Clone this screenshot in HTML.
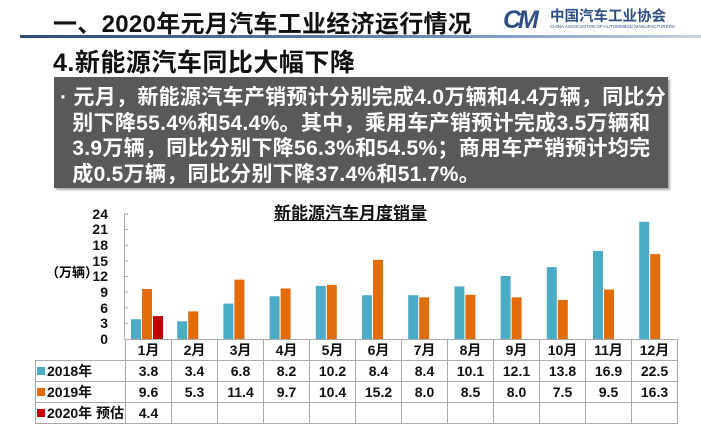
<!DOCTYPE html>
<html><head><meta charset="utf-8"><style>
body{margin:0;width:701px;height:433px;background:#fff;overflow:hidden;position:relative;font-family:"Liberation Sans","Noto Sans CJK SC",sans-serif}
.a{position:absolute;white-space:nowrap}
.t1{left:53px;top:4px;font-size:24px;font-weight:bold;color:#111;letter-spacing:0.3px}
.line{left:20px;top:35px;width:681px;height:3px;background:linear-gradient(90deg,#2b4a7a,#6a8ab8 60%,#c8d4e6)}
.t2{left:53px;top:43px;font-size:25px;font-weight:bold;color:#111;letter-spacing:0.5px}
.box{left:54px;top:77px;width:614px;height:111px;background:#595959;box-shadow:2px 2px 2px #aaa}
.bt{left:60px;top:85px;font-size:21px;font-weight:bold;color:#fff;line-height:25.5px;letter-spacing:0.3px}
.ct{left:0;width:701px;text-align:center;top:199px;font-size:17px;font-weight:bold;text-decoration:underline;color:#111}
.yl{width:30px;text-align:right;left:78px;font-size:14px;font-weight:bold;color:#111}
table{position:absolute;left:35px;top:339px;border-collapse:collapse;font-size:14px;font-weight:bold;color:#111}
td{border:1px solid #aaa;height:20px;padding:0;text-align:center;width:45px}
td.l{width:88px;text-align:left;padding-left:1px}
tr.h td.l{border:none;border-right:1px solid #aaa}
.sq{display:inline-block;width:8px;height:8px;margin-right:2px;vertical-align:1px}
</style></head><body>
<div class="a t1">一、2020年元月汽车工业经济运行情况</div>
<div class="a" style="left:503px;top:6px;font-size:25px;font-weight:bold;font-style:italic;color:#2d4f86;letter-spacing:-3px">CM</div>
<div class="a" style="left:550px;top:5px;font-size:14.5px;font-weight:bold;color:#2d4f86">中国汽车工业协会</div>
<div class="a" style="left:550px;top:24px;font-size:4.5px;color:#2d4f86">CHINA ASSOCIATION OF AUTOMOBILE MANUFACTURERS</div>
<div class="a line"></div>
<div class="a t2">4.新能源汽车同比大幅下降</div>
<div class="a box"></div>
<div class="a bt">· 元月，新能源汽车产销预计分别完成4.0万辆和4.4万辆，同比分<br>&nbsp;&nbsp;别下降55.4%和54.4%。其中，乘用车产销预计完成3.5万辆和<br>&nbsp;&nbsp;3.9万辆，同比分别下降56.3%和54.5%；商用车产销预计均完<br>&nbsp;&nbsp;成0.5万辆，同比分别下降37.4%和51.7%。</div>
<div class="a ct">新能源汽车月度销量</div>
<div class="a" style="left:46px;top:262px;font-size:13px;font-weight:bold">（万辆）</div>
<svg class="a" style="left:0;top:0" width="701" height="433">
<line x1="124.5" y1="214" x2="124.5" y2="339" stroke="#aaa"/>
<g stroke="#aaa">
<line x1="124" y1="214" x2="128" y2="214"/><line x1="124" y1="229.6" x2="128" y2="229.6"/><line x1="124" y1="245.3" x2="128" y2="245.3"/><line x1="124" y1="260.9" x2="128" y2="260.9"/><line x1="124" y1="276.5" x2="128" y2="276.5"/><line x1="124" y1="292.1" x2="128" y2="292.1"/><line x1="124" y1="307.8" x2="128" y2="307.8"/><line x1="124" y1="323.4" x2="128" y2="323.4"/>
</g>
<g id="bars"></g>
</svg>
<div class="a yl" style="top:206px">24</div>
<div class="a yl" style="top:221px">21</div>
<div class="a yl" style="top:237px">18</div>
<div class="a yl" style="top:253px">15</div>
<div class="a yl" style="top:268px">12</div>
<div class="a yl" style="top:284px">9</div>
<div class="a yl" style="top:300px">6</div>
<div class="a yl" style="top:315px">3</div>
<div class="a yl" style="top:331px">0</div>
<table>
<tr class="h"><td class="l"></td><td>1月</td><td>2月</td><td>3月</td><td>4月</td><td>5月</td><td>6月</td><td>7月</td><td>8月</td><td>9月</td><td>10月</td><td>11月</td><td>12月</td></tr>
<tr><td class="l"><span class="sq" style="background:#4bacc6"></span>2018年</td><td>3.8</td><td>3.4</td><td>6.8</td><td>8.2</td><td>10.2</td><td>8.4</td><td>8.4</td><td>10.1</td><td>12.1</td><td>13.8</td><td>16.9</td><td>22.5</td></tr>
<tr><td class="l"><span class="sq" style="background:#e36c0a"></span>2019年</td><td>9.6</td><td>5.3</td><td>11.4</td><td>9.7</td><td>10.4</td><td>15.2</td><td>8.0</td><td>8.5</td><td>8.0</td><td>7.5</td><td>9.5</td><td>16.3</td></tr>
<tr><td class="l"><span class="sq" style="background:#c00000"></span>2020年 预估</td><td>4.4</td><td></td><td></td><td></td><td></td><td></td><td></td><td></td><td></td><td></td><td></td><td></td></tr>
</table>
<script>
var a=[3.8,3.4,6.8,8.2,10.2,8.4,8.4,10.1,12.1,13.8,16.9,22.5],b=[9.6,5.3,11.4,9.7,10.4,15.2,8.0,8.5,8.0,7.5,9.5,16.3];
var s='',k=125/24;
function r(x,v,c){var h=v*k;return '<rect x="'+x+'" y="'+(339-h)+'" width="10" height="'+h+'" fill="'+c+'"/>';}
for(var i=0;i<12;i++){var x=124+i*46.2+7;s+=r(x,a[i],'#4bacc6')+r(x+11,b[i],'#e36c0a');}
s+=r(124+7+22,4.4,'#c00000');
document.getElementById('bars').innerHTML=s;
</script>
</body></html>
